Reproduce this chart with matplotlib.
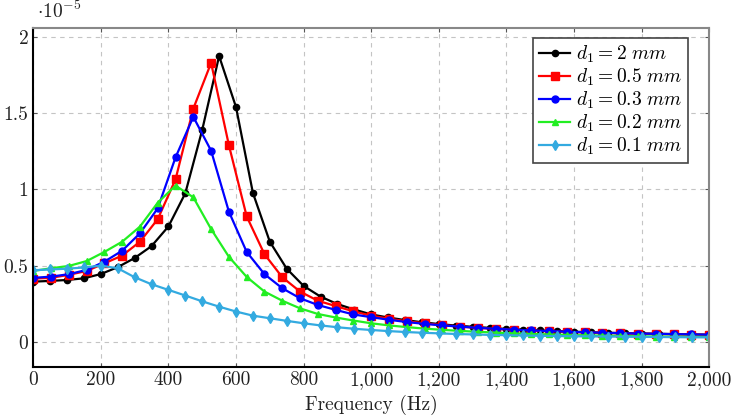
import numpy as np
import matplotlib
matplotlib.use('Agg')
from matplotlib import pyplot as plt
from matplotlib.ticker import FuncFormatter

plt.rcParams['font.family'] = 'cmr10'
plt.rcParams['mathtext.fontset'] = 'cm'
plt.rcParams['axes.formatter.use_mathtext'] = True

# frequency grids (Hz)
f50 = np.linspace(0, 2000, 41)
f38 = np.linspace(0, 2000, 39)

# amplitudes, units of 1e-5
d_2mm = [0.395, 0.40, 0.406, 0.417, 0.445, 0.49, 0.55, 0.628, 0.757, 0.975,
         1.39, 1.875, 1.54, 0.977, 0.657, 0.48, 0.367, 0.297, 0.248, 0.212,
         0.18, 0.16, 0.143, 0.129, 0.117, 0.107, 0.099, 0.092, 0.085, 0.08,
         0.075, 0.071, 0.067, 0.063, 0.06, 0.057, 0.055, 0.053, 0.051, 0.049, 0.047]
d_05mm = [0.415, 0.42, 0.44, 0.465, 0.515, 0.566, 0.657, 0.805, 1.066, 1.53,
          1.83, 1.29, 0.823, 0.575, 0.424, 0.33, 0.27, 0.235, 0.2, 0.172,
          0.152, 0.135, 0.122, 0.11, 0.1, 0.092, 0.085, 0.079, 0.074, 0.07,
          0.066, 0.062, 0.059, 0.056, 0.054, 0.052, 0.05, 0.048, 0.046]
d_03mm = [0.42, 0.428, 0.444, 0.472, 0.526, 0.598, 0.712, 0.876, 1.21, 1.476,
          1.254, 0.854, 0.59, 0.444, 0.352, 0.286, 0.242, 0.21, 0.18, 0.162,
          0.145, 0.13, 0.118, 0.108, 0.1, 0.092, 0.086, 0.08, 0.075, 0.071,
          0.067, 0.063, 0.06, 0.057, 0.055, 0.053, 0.051, 0.049, 0.047]
d_02mm = [0.465, 0.483, 0.498, 0.53, 0.59, 0.657, 0.756, 0.913, 1.025, 0.948,
          0.74, 0.558, 0.426, 0.33, 0.27, 0.22, 0.183, 0.16, 0.14, 0.122,
          0.108, 0.097, 0.087, 0.079, 0.072, 0.066, 0.061, 0.056, 0.052, 0.049,
          0.046, 0.043, 0.041, 0.039, 0.037, 0.035, 0.034, 0.033, 0.032]
d_01mm = [0.47, 0.475, 0.48, 0.488, 0.5, 0.483, 0.424, 0.378, 0.341, 0.304,
          0.266, 0.231, 0.199, 0.172, 0.155, 0.138, 0.122, 0.108, 0.096, 0.086,
          0.078, 0.071, 0.065, 0.06, 0.056, 0.052, 0.049, 0.046, 0.044, 0.042,
          0.04, 0.038, 0.037, 0.036, 0.035, 0.034, 0.033, 0.032, 0.031, 0.03, 0.03]

xticks = [0, 200, 400, 600, 800, 1000, 1200, 1400, 1600, 1800, 2000]
yticks = [0, 0.5, 1, 1.5, 2]

fig = plt.figure(figsize=(7.38, 4.18), dpi=100)
ax = fig.add_axes([0.045, 0.123, 0.916, 0.809])

ax.plot(f50, d_2mm, color='black', marker='o', ms=4.5, lw=1.6, label=r'$d_1 = 2\ mm$')
ax.plot(f38, d_05mm, color='#ff0000', marker='s', ms=5.5, lw=1.6, label=r'$d_1 = 0.5\ mm$')
ax.plot(f38, d_03mm, color='#0000ff', marker='o', ms=5, lw=1.6, label=r'$d_1 = 0.3\ mm$')
ax.plot(f38, d_02mm, color='#22ee22', marker='^', ms=5, lw=1.6, label=r'$d_1 = 0.2\ mm$')
ax.plot(f50, d_01mm, color='#33aae0', marker='d', ms=5, lw=1.6, label=r'$d_1 = 0.1\ mm$')

ax.set_xlim(0, 2000)
ax.set_ylim(-0.162, 2.056)
ax.set_xticks(xticks)
ax.set_yticks(yticks)
ax.xaxis.set_major_formatter(FuncFormatter(lambda x, p: f'{x:,.0f}'))
ax.yaxis.set_major_formatter(FuncFormatter(lambda y, p: f'{y:g}'))
ax.tick_params(direction='in', labelsize=14, length=3, top=True, right=True, colors='#555555', labelcolor='#222222')
ax.grid(True, linestyle=(0, (4, 4)), color='#c4c4c4', lw=0.8)

for s in ['top', 'right']:
    ax.spines[s].set_color('#888888')
    ax.spines[s].set_linewidth(1.5)
for s in ['left', 'bottom']:
    ax.spines[s].set_color('black')
    ax.spines[s].set_linewidth(1.5)

ax.set_xlabel('Frequency (Hz)', fontsize=14, labelpad=4, color='#222222')
fig.text(0.05, 0.972, r'$\cdot 10^{-5}$', fontsize=14, va='center', ha='left', color='#222222')

leg = ax.legend(loc='upper right', bbox_to_anchor=(0.969, 0.971), borderaxespad=0, fontsize=14,
                fancybox=False, framealpha=1, edgecolor='#444444',
                labelspacing=0.08, handlelength=1.6, handletextpad=0.3, borderpad=0.3)
leg.get_frame().set_linewidth(1.2)

fig.savefig('out.png', dpi=100)
